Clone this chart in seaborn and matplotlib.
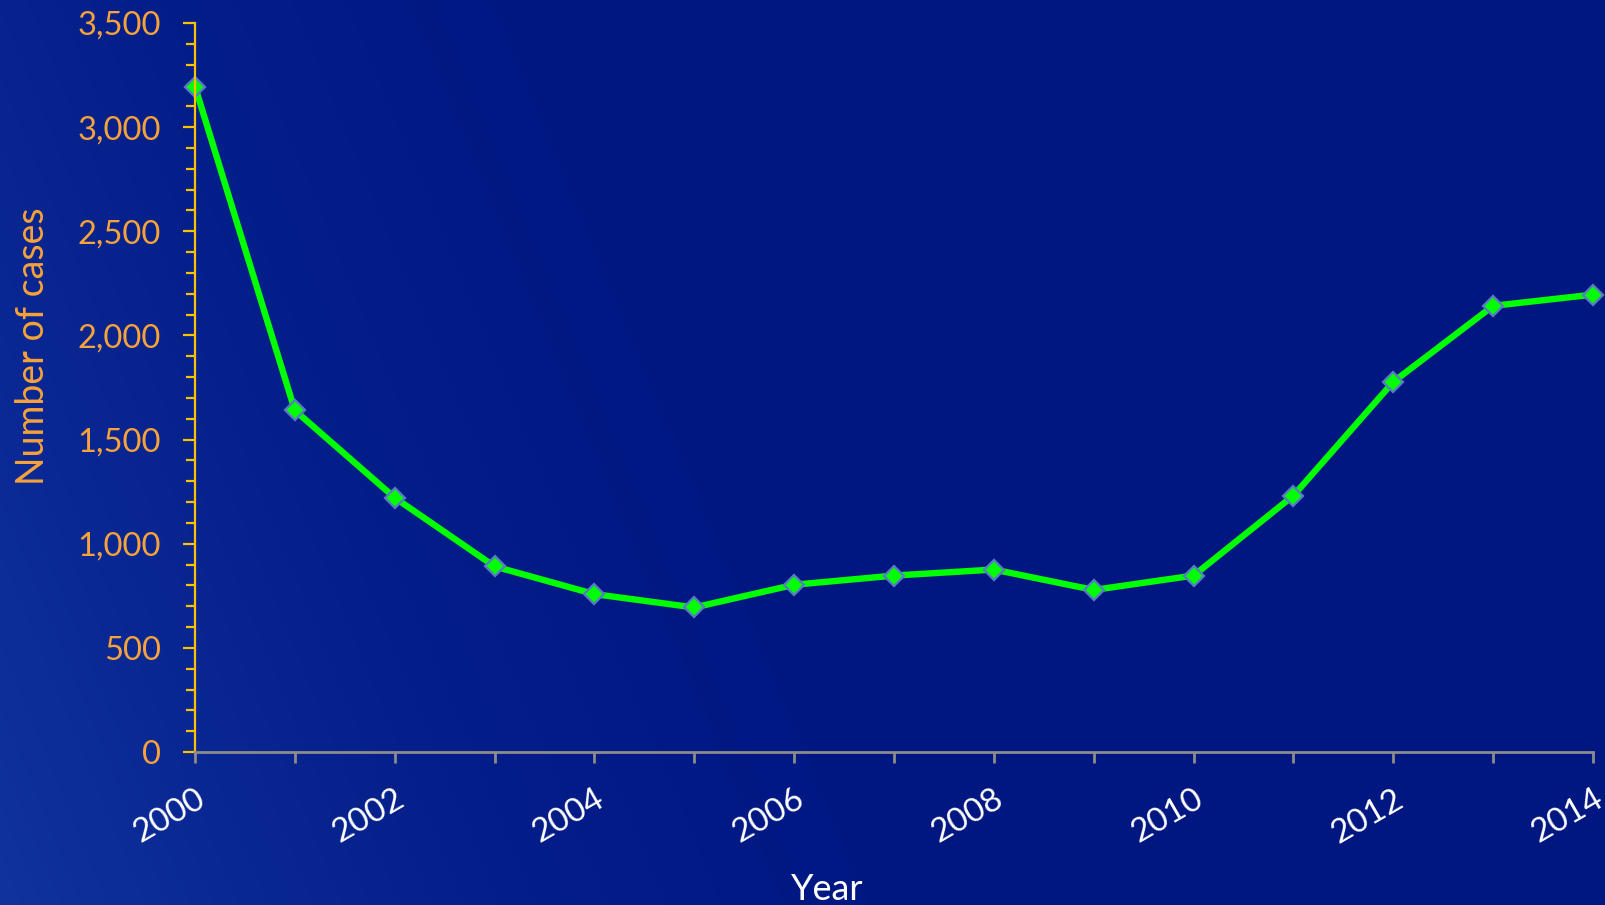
import numpy as np
import pandas as pd
import matplotlib
matplotlib.use("Agg")
import matplotlib.pyplot as plt
import seaborn as sns
from matplotlib.ticker import MultipleLocator, FuncFormatter

# Data
years = [2000, 2001, 2002, 2003, 2004, 2005, 2006, 2007, 2008, 2009, 2010, 2011, 2012, 2013, 2014]
cases = [3195, 1640, 1221, 891, 758, 694, 803, 847, 876, 778, 847, 1231, 1777, 2142, 2196]
year_ticks = [2000, 2002, 2004, 2006, 2008, 2010, 2012, 2014]

df = pd.DataFrame({"Year": years, "Cases": cases})

sns.set_style("white")
plt.rcParams['font.family'] = ['Lato', 'DejaVu Sans']

W, H = 1606, 905
fig = plt.figure(figsize=(W / 100, H / 100), dpi=100)

# background gradient (dark navy, lighter towards the lower-left)
bg = fig.add_axes([0, 0, 1, 1], zorder=0)
xx, yy = np.meshgrid(np.linspace(0, 1, 400), np.linspace(0, 1, 300))
g = np.clip(1 - (xx * 1.5 + (1 - yy) * 0.35), 0, 1) ** 2
c_dark = np.array([0x00, 0x17, 0x82]) / 255
c_light = np.array([0x10, 0x33, 0x9e]) / 255
img = c_dark[None, None, :] * (1 - g[..., None]) + c_light[None, None, :] * g[..., None]
bg.imshow(img, aspect='auto', extent=[0, 1, 0, 1], origin='upper')
bg.axis('off')

# plot area in pixels: left 195, right 1593, top 23, bottom 752
ax = fig.add_axes([195 / W, 1 - 752 / H, (1593 - 195) / W, (752 - 23) / H], zorder=1)
ax.patch.set_alpha(0)

sns.lineplot(data=df, x="Year", y="Cases", ax=ax, color="#00ff00", linewidth=4.6,
             marker="D", markersize=10.5, markerfacecolor="#00ff00",
             markeredgecolor="#5a7ac8", markeredgewidth=1.6, clip_on=False)

orange = "#f7a23a"
gold = "#ffc000"

ax.set_xlim(2000, 2014)
ax.set_ylim(0, 3500)
ax.yaxis.set_major_locator(MultipleLocator(500))
ax.yaxis.set_minor_locator(MultipleLocator(100))
ax.yaxis.set_major_formatter(FuncFormatter(lambda v, p: f"{int(v):,}"))
ax.set_xticks(years)
ax.set_xticklabels([str(y) if y in year_ticks else "" for y in years])

for s in ["top", "right"]:
    ax.spines[s].set_visible(False)
ax.spines["left"].set_color(gold)
ax.spines["left"].set_linewidth(1.6)
ax.spines["bottom"].set_color("#8c8c8c")
ax.spines["bottom"].set_linewidth(2)

ax.tick_params(axis='y', which='both', direction='out', colors=gold, width=1.6, left=True)
ax.tick_params(axis='y', which='major', length=8.6, labelsize=23.5, labelcolor=orange, pad=16)
ax.tick_params(axis='y', which='minor', length=6.5)
ax.tick_params(axis='x', which='major', direction='out', colors="#8c8c8c", width=2, length=8,
               labelsize=24, labelcolor="white", pad=15, bottom=True)
for lbl in ax.get_xticklabels():
    lbl.set_rotation(30)
    lbl.set_ha('right')
    lbl.set_rotation_mode('anchor')

ax.set_xlabel("Year", fontsize=26, color="white", va='top')
ax.xaxis.set_label_coords(0.452, -0.166)
ax.set_ylabel("Number of cases", fontsize=27, color=orange, va='center')
ax.yaxis.set_label_coords(-0.116, 0.557)
ax.grid(False)

fig.savefig("out.png", dpi=100)
